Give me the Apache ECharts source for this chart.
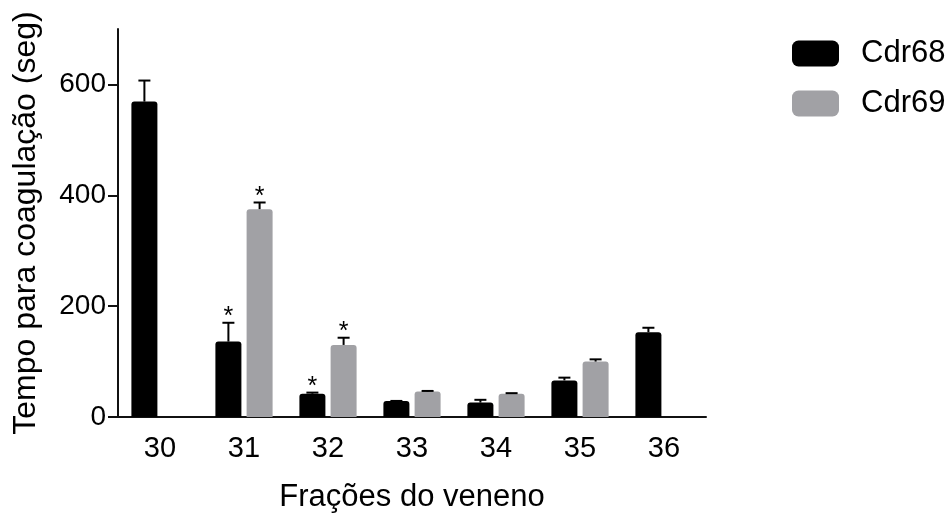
<!DOCTYPE html>
<html>
<head>
<meta charset="utf-8">
<script src="https://cdn.jsdelivr.net/npm/echarts@6/dist/echarts.min.js"></script>
<style>
  html, body { margin: 0; padding: 0; background: #ffffff; }
  #chart { width: 952px; height: 518px; }
</style>
</head>
<body>
<div id="chart"></div>
<script>
// Venom fractions on the category axis
const categories = ['30', '31', '32', '33', '34', '35', '36'];

// Clotting time (s), mean and upper error for each strain
const cdr68 = [569, 136, 42, 29, 26, 66, 153];
const cdr68Err = [38, 34, 2, 0, 5, 5, 8];
const cdr69 = [null, 375, 130, 46, 42, 100, null];
const cdr69Err = [null, 12, 13, 1, 1, 4, null];

// Statistical significance markers (*)
const cdr68Sig = [false, true, true, false, false, false, false];
const cdr69Sig = [false, true, true, false, false, false, false];

// Y axis ticks
const yTicks = [0, 200, 400, 600];

const FONT = '"Liberation Sans", Arial, Helvetica, sans-serif';
const BAR_WIDTH = 26;
const BAR_GAP = 0.2; // fraction of bar width
const HALF_SHIFT = (BAR_WIDTH + BAR_WIDTH * BAR_GAP) / 2;

function errorData(values, errs, sig) {
  const out = [];
  values.forEach(function (v, i) {
    if (v == null) return;
    out.push([i, v + (errs[i] || 0), v, sig[i] ? 1 : 0]);
  });
  return out;
}

function errorRenderer(sign) {
  return function (params, api) {
    const i = api.value(0);
    const top = api.coord([i, api.value(1)]);
    const base = api.coord([i, api.value(2)]);
    const x = top[0] + sign * HALF_SHIFT;
    const style = { stroke: '#000', lineWidth: 2 };
    const children = [];
    if (base[1] - top[1] > 0.5) {
      children.push({ type: 'line', shape: { x1: x, y1: base[1], x2: x, y2: top[1] }, style: style });
    }
    children.push({ type: 'line', shape: { x1: x - 6, y1: top[1], x2: x + 6, y2: top[1] }, style: style });
    if (api.value(3)) {
      children.push({
        type: 'text',
        style: {
          text: '*', x: x, y: top[1] + 7,
          align: 'center', verticalAlign: 'bottom',
          font: '25px ' + FONT, fill: '#000'
        }
      });
    }
    return { type: 'group', children: children };
  };
}

const chart = echarts.init(document.getElementById('chart'), null, { renderer: 'canvas' });

chart.setOption({
  backgroundColor: '#ffffff',
  animation: false,
  textStyle: { fontFamily: FONT },
  grid: { left: 118, right: 246, top: 29, bottom: 100, containLabel: false },
  legend: {
    orient: 'vertical',
    left: 792, top: 38,
    padding: 0,
    itemWidth: 47, itemHeight: 26, itemGap: 19,
    icon: 'roundRect',
    textStyle: { fontSize: 31, color: '#000', fontFamily: FONT, padding: [0, 0, 0, 17] },
    data: ['Cdr68', 'Cdr69']
  },
  xAxis: {
    type: 'category',
    data: categories,
    name: 'Frações do veneno',
    nameLocation: 'middle',
    nameGap: 65,
    nameTextStyle: { fontSize: 31, color: '#000', fontFamily: FONT },
    axisLine: { lineStyle: { color: '#111', width: 2 } },
    axisTick: { alignWithLabel: true, length: 10, lineStyle: { color: '#111', width: 2 } },
    axisLabel: { fontSize: 29, color: '#000', margin: 17, fontFamily: FONT }
  },
  yAxis: {
    type: 'value',
    min: 0, max: 700, interval: 200,
    name: 'Tempo para coagulação (seg)',
    nameLocation: 'middle',
    nameGap: 76,
    nameTextStyle: { fontSize: 32, color: '#000', fontFamily: FONT },
    axisLine: { show: true, lineStyle: { color: '#111', width: 2 } },
    axisTick: { show: true, length: 10, customValues: yTicks, lineStyle: { color: '#111', width: 2 } },
    axisLabel: { fontSize: 28, color: '#000', margin: 12, customValues: yTicks, fontFamily: FONT },
    splitLine: { show: false }
  },
  series: [
    {
      name: 'Cdr68', type: 'bar', data: cdr68,
      barWidth: BAR_WIDTH, barGap: (BAR_GAP * 100) + '%',
      itemStyle: { color: '#000000', borderRadius: [3, 3, 0, 0] }
    },
    {
      name: 'Cdr69', type: 'bar', data: cdr69,
      barWidth: BAR_WIDTH, barGap: (BAR_GAP * 100) + '%',
      itemStyle: { color: '#a1a1a5', borderRadius: [3, 3, 0, 0] }
    },
    {
      name: 'Cdr68 erro', type: 'custom', renderItem: errorRenderer(-1),
      data: errorData(cdr68, cdr68Err, cdr68Sig), z: 5, silent: true
    },
    {
      name: 'Cdr69 erro', type: 'custom', renderItem: errorRenderer(1),
      data: errorData(cdr69, cdr69Err, cdr69Sig), z: 5, silent: true
    }
  ]
});
</script>
</body>
</html>
